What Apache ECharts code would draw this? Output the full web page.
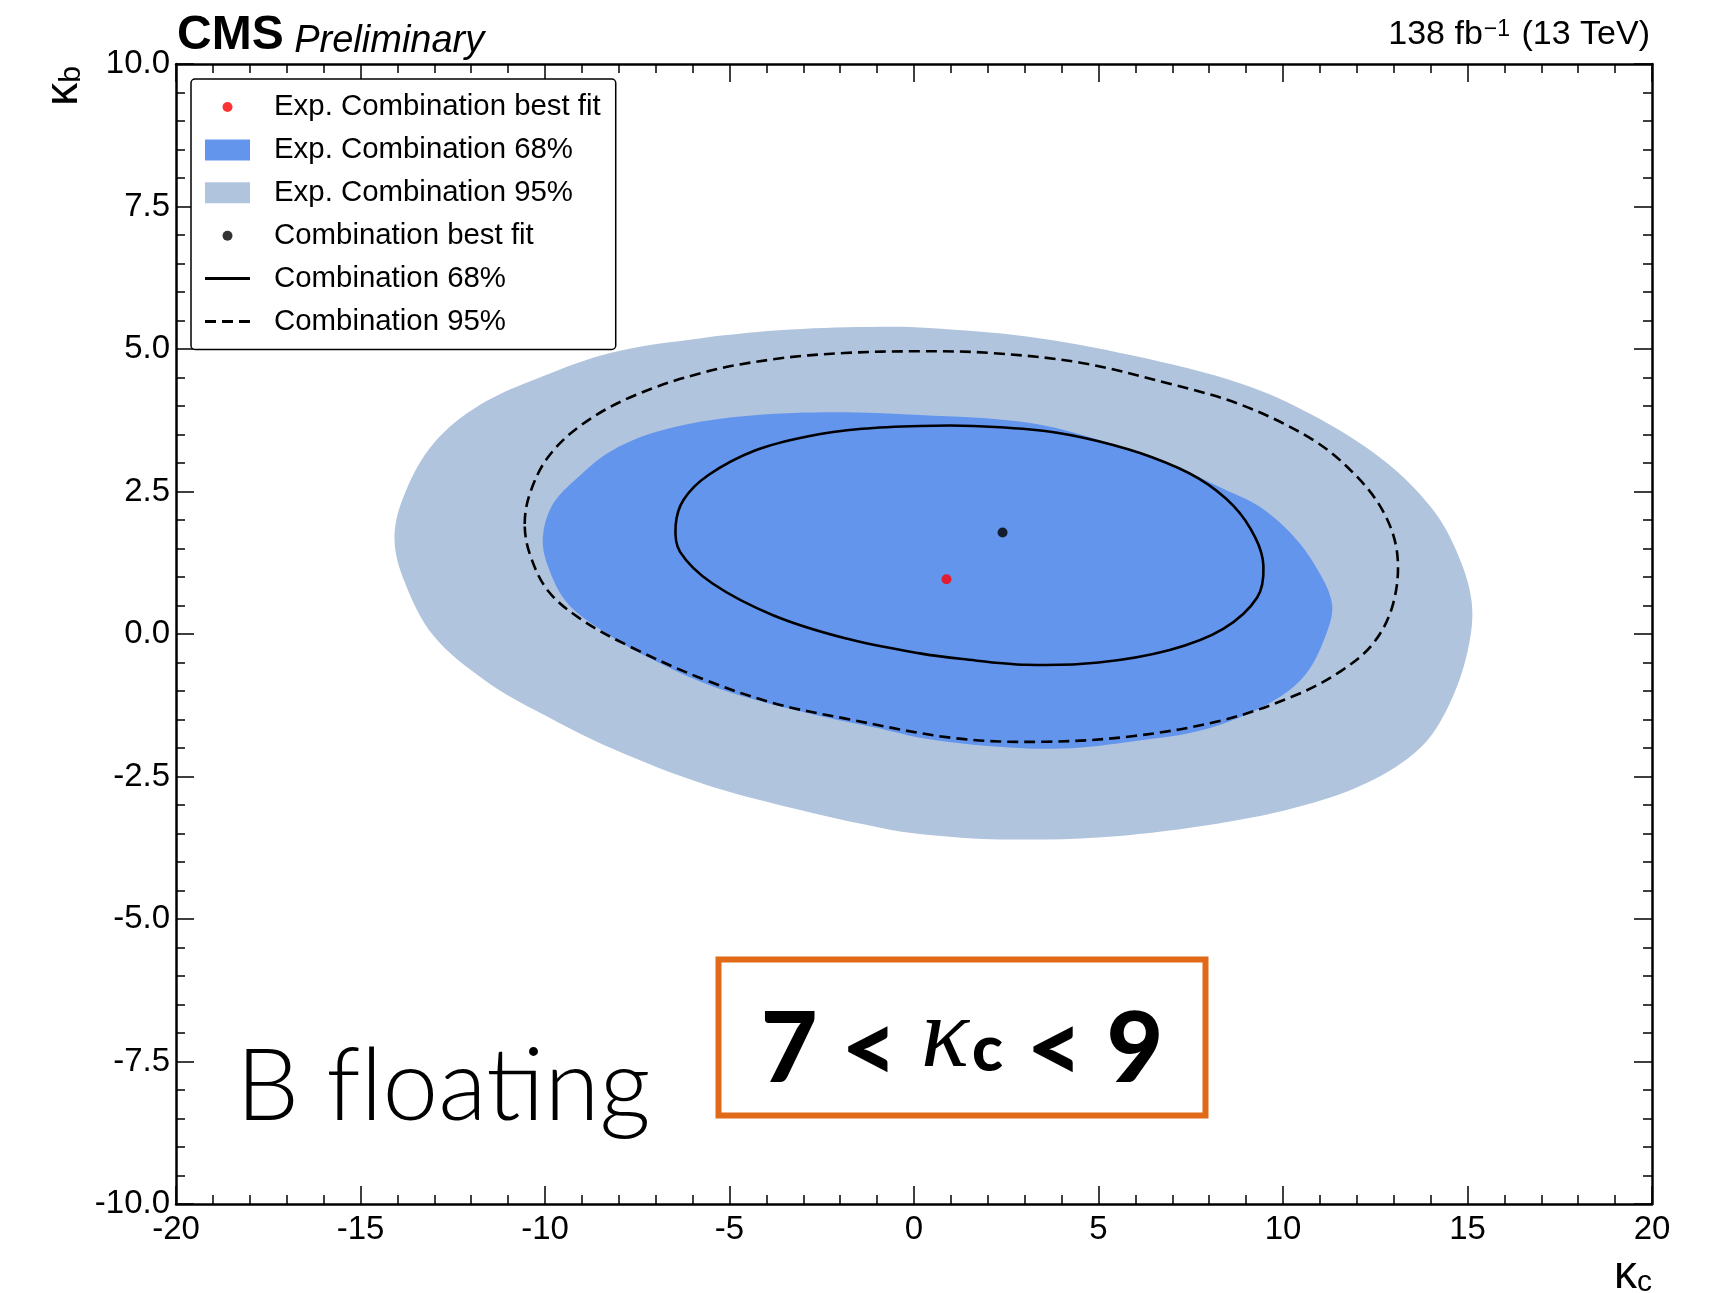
<!DOCTYPE html>
<html>
<head>
<meta charset="utf-8">
<script src="https://cdn.jsdelivr.net/npm/echarts@6/dist/echarts.min.js"></script>
<style>
html,body{margin:0;padding:0;background:#ffffff;}
#c{width:1722px;height:1293px;}
</style>
</head>
<body>
<div id="c"></div>
<script>
// ---------------- data ----------------
const xTickLabels = ['-20','-15','-10','-5','0','5','10','15','20'];
const yTickLabels = ['-10.0','-7.5','-5.0','-2.5','0.0','2.5','5.0','7.5','10.0'];

const seriesNames = [
  'Exp. Combination best fit',
  'Exp. Combination 68%',
  'Exp. Combination 95%',
  'Combination best fit',
  'Combination 68%',
  'Combination 95%'
];

const expBestFit = [[0.88, 0.96]];
const combBestFit = [[2.40, 1.78]];

const exp95 = [
  [-14.08,1.69],[-13.79,2.48],[-13.01,3.35],[-11.76,4.02],[-10.11,4.51],[-8.18,4.94],
  [-5.76,5.19],[-3.34,5.34],[-0.92,5.39],[0.40,5.37],[3.06,5.22],[5.96,4.88],[8.87,4.39],
  [10.80,3.84],[12.74,3.04],[13.99,2.24],[14.67,1.50],[15.11,0.58],[15.01,-0.28],
  [14.48,-1.27],[13.70,-2.01],[12.25,-2.62],[10.32,-3.05],[7.90,-3.36],[5.00,-3.57],
  [2.09,-3.60],[0.16,-3.51],[-0.92,-3.40],[-3.34,-3.05],[-5.76,-2.62],[-8.18,-2.01],
  [-10.11,-1.39],[-11.57,-0.84],[-13.01,-0.04],[-13.79,0.89]
];

const exp68 = [
  [-10.06,1.69],[-9.82,2.24],[-9.24,2.67],[-8.18,3.22],[-6.73,3.59],[-4.79,3.81],
  [-2.38,3.89],[0.16,3.84],[3.06,3.71],[5.00,3.41],[6.93,2.98],[8.38,2.55],[9.35,2.24],
  [10.32,1.69],[10.99,1.07],[11.33,0.52],[11.19,0.03],[10.61,-0.71],[9.64,-1.21],
  [7.90,-1.67],[5.96,-1.88],[4.03,-2.01],[2.09,-1.97],[0.16,-1.82],[-0.92,-1.66],
  [-2.86,-1.39],[-5.28,-0.96],[-7.21,-0.41],[-8.66,0.15],[-9.44,0.58],[-9.92,1.19]
];

const comb68 = [
  [-6.46,1.90],[-6.24,2.36],[-5.57,2.79],[-4.31,3.22],[-2.86,3.47],[-1.41,3.60],
  [0.16,3.65],[1.61,3.65],[3.55,3.56],[5.00,3.38],[6.45,3.10],[7.71,2.73],[8.67,2.24],
  [9.25,1.69],[9.47,1.19],[9.30,0.64],[8.38,0.09],[6.93,-0.28],[5.00,-0.50],[3.06,-0.54],
  [1.32,-0.44],[0.16,-0.34],[-1.89,-0.07],[-3.82,0.33],[-5.47,0.89],[-6.34,1.44]
];

const comb95 = [
  [-10.55,1.93],[-10.40,2.48],[-9.92,3.10],[-9.05,3.65],[-7.70,4.15],[-5.76,4.58],
  [-3.82,4.82],[-1.89,4.93],[0.16,4.96],[2.09,4.93],[4.51,4.76],[6.93,4.39],[8.87,4.02],
  [10.80,3.41],[11.96,2.79],[12.74,2.12],[13.10,1.38],[12.98,0.52],[12.45,-0.16],
  [11.57,-0.65],[10.32,-1.08],[8.38,-1.51],[5.96,-1.79],[3.55,-1.89],[1.13,-1.83],
  [-1.89,-1.48],[-3.82,-1.21],[-5.76,-0.78],[-7.70,-0.22],[-9.05,0.27],[-9.92,0.76],
  [-10.40,1.38]
];

// ---------------- chart ----------------
const FONT = "'Liberation Sans', Arial, Helvetica, sans-serif";
const chart = echarts.init(document.getElementById('c'), null, {renderer: 'canvas'});

function contourSeries(name, pts, legendColor, drawStyle) {
  return {
    name: name,
    type: 'custom',
    coordinateSystem: 'cartesian2d',
    xAxisIndex: 0,
    yAxisIndex: 0,
    silent: true,
    clip: false,
    data: pts,
    encode: {x: 0, y: 1},
    itemStyle: {color: legendColor},
    renderItem: function (params, api) {
      if (params.dataIndex !== 0) return null;
      const points = pts.map(function (p) { return api.coord(p); });
      return {
        type: 'polygon',
        shape: {points: points, smooth: 0.35},
        style: drawStyle
      };
    }
  };
}

function axisBase() {
  return {
    type: 'value',
    axisLine: {show: true, onZero: false, lineStyle: {color: '#000', width: 2.5}},
    axisTick: {show: true, inside: true, length: 18, lineStyle: {color: '#000', width: 1.5}},
    minorTick: {show: true, splitNumber: 5, length: 9, lineStyle: {color: '#000', width: 1.5}},
    splitLine: {show: false},
    minorSplitLine: {show: false}
  };
}

const subRich = function (big, small) {
  return {
    k: {fontFamily: FONT, fontSize: big, color: '#000', fontWeight: 'normal'},
    s: {fontFamily: FONT, fontSize: small, color: '#000', fontWeight: 'normal', verticalAlign: 'bottom'}
  };
};

const xBottom = Object.assign(axisBase(), {
  position: 'bottom', min: -20, max: 20, interval: 5,
  axisLabel: {
    show: true, margin: 9, color: '#000', fontSize: 33, fontFamily: FONT,
    showMinLabel: true, showMaxLabel: true, hideOverlap: false,
    formatter: function (v) { return xTickLabels[Math.round((v + 20) / 5)]; }
  },
  name: '{k|κ}{s|c}', nameLocation: 'end', nameGap: 0, nameMoveOverlap: false,
  nameTextStyle: {align: 'right', verticalAlign: 'top', padding: [48, 0, 0, 0], rich: subRich(46, 30)}
});
const xTop = Object.assign(axisBase(), {
  position: 'top', min: -20, max: 20, interval: 5, axisLabel: {show: false}
});
const yLeft = Object.assign(axisBase(), {
  position: 'left', min: -10, max: 10, interval: 2.5,
  axisLabel: {
    show: true, margin: 6, color: '#000', fontSize: 33, fontFamily: FONT,
    showMinLabel: true, showMaxLabel: true, hideOverlap: false,
    formatter: function (v) { return yTickLabels[Math.round((v + 10) / 2.5)]; }
  },
  name: '{k|κ}{s|b}', nameLocation: 'end', nameGap: 0, nameRotate: 90, nameMoveOverlap: false,
  nameTextStyle: {align: 'right', verticalAlign: 'bottom', padding: [0, 2, 89, 0], rich: subRich(46, 30)}
});
const yRight = Object.assign(axisBase(), {
  position: 'right', min: -10, max: 10, interval: 2.5, axisLabel: {show: false}
});

const dotIcon = 'path://M0,0L0,0M45,21L45,21M17.5,10.5A5,5,0,1,1,27.5,10.5A5,5,0,1,1,17.5,10.5Z';
const solidIcon = 'path://M0,0L45,0L45,3L0,3Z';
const dashIcon = 'path://M0,0L11,0L11,3L0,3ZM17,0L28,0L28,3L17,3ZM34,0L45,0L45,3L34,3Z';

const option = {
  animation: false,
  backgroundColor: '#ffffff',
  grid: {left: 176, right: 70, top: 64, bottom: 89, containLabel: false, outerBoundsMode: 'none'},
  title: [
    {
      left: 177, top: 12, padding: 0,
      text: '{a|CMS}{b| Preliminary}',
      textStyle: {
        fontWeight: 'normal',
        rich: {
          a: {fontFamily: FONT, fontSize: 48, fontWeight: 'bold', color: '#000', verticalAlign: 'bottom'},
          b: {fontFamily: FONT, fontSize: 38, fontWeight: 'normal', fontStyle: 'italic', color: '#000', verticalAlign: 'bottom'}
        }
      }
    },
    {
      right: 72, top: 18, padding: 0,
      text: '{a|138 fb}{s|−1}{a| (13 TeV)}',
      textStyle: {
        fontWeight: 'normal',
        rich: {
          a: {fontFamily: FONT, fontSize: 34, fontWeight: 'normal', color: '#000'},
          s: {fontFamily: FONT, fontSize: 23, fontWeight: 'normal', color: '#000', verticalAlign: 'top', padding: [0, 2, 0, 1]}
        }
      }
    }
  ],
  legend: {
    orient: 'vertical', left: 191, top: 79,
    padding: [13, 15, 13, 14],
    itemWidth: 45, itemHeight: 21, itemGap: 12.9,
    selectedMode: false,
    backgroundColor: '#ffffff', borderColor: '#000', borderWidth: 1.5, borderRadius: 4,
    textStyle: {fontFamily: FONT, fontSize: 29.4, color: '#000', lineHeight: 30, padding: [0, 0, 0, 19]},
    data: [
      {name: seriesNames[0], icon: dotIcon},
      {name: seriesNames[1], icon: 'rect'},
      {name: seriesNames[2], icon: 'rect'},
      {name: seriesNames[3], icon: dotIcon},
      {name: seriesNames[4], icon: solidIcon},
      {name: seriesNames[5], icon: dashIcon}
    ]
  },
  xAxis: [xBottom, xTop],
  yAxis: [yLeft, yRight],
  series: [
    contourSeries(seriesNames[2], exp95, '#B0C4DE', {fill: '#B0C4DE', stroke: 'none'}),
    contourSeries(seriesNames[1], exp68, '#6495ED', {fill: '#6495ED', stroke: 'none'}),
    contourSeries(seriesNames[5], comb95, '#000000', {fill: 'none', stroke: '#000', lineWidth: 2.6, lineDash: [11, 6]}),
    contourSeries(seriesNames[4], comb68, '#000000', {fill: 'none', stroke: '#000', lineWidth: 2.6}),
    {
      name: seriesNames[0], type: 'scatter', data: expBestFit, symbol: 'circle', symbolSize: 10,
      itemStyle: {color: '#FF0000'}, silent: true
    },
    {
      name: seriesNames[3], type: 'scatter', data: combBestFit, symbol: 'circle', symbolSize: 10,
      itemStyle: {color: '#000000'}, silent: true
    }
  ],
  graphic: [
    {
      type: 'text', left: 236, top: 1038, silent: true,
      style: {text: 'B f\u200Cloa\u200Cting', fontFamily: 'Lato, Raleway, sans-serif', fontWeight: 300, fontSize: 100, fill: '#000'}
    },
    {
      type: 'rect', silent: true,
      shape: {x: 718.5, y: 959.5, width: 487, height: 156},
      style: {fill: '#ffffff', stroke: '#E06A17', lineWidth: 6}
    },
    {
      type: 'text', x: 962, y: 1050, silent: true,
      style: {
        text: '{n|7 < }{k|κ}{c|c}{n| < 9}',
        align: 'center', verticalAlign: 'middle',
        rich: {
          n: {fontFamily: 'Lato, sans-serif', fontWeight: 900, fontSize: 98, fill: '#000'},
          k: {fontFamily: "'Liberation Serif', serif", fontStyle: 'italic', fontSize: 100, fill: '#000', padding: [0, 3, 20, 0]},
          c: {fontFamily: 'Lato, sans-serif', fontWeight: 900, fontSize: 64, fill: '#000'}
        }
      }
    }
  ]
};

chart.setOption(option);
</script>
</body>
</html>
